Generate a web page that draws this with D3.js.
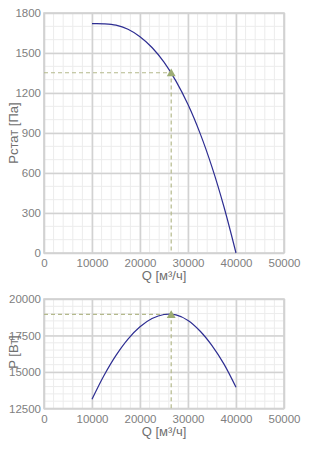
<!DOCTYPE html>
<html>
<head>
<meta charset="utf-8">
<script src="https://cdn.jsdelivr.net/npm/d3@7"></script>
<style>
  body { margin: 0; background: #fff; }
  svg { display: block; font-family: "Liberation Sans", Arial, sans-serif; }
</style>
</head>
<body>
<div id="chart"></div>
<script>
// data
const flow = [10000, 12500, 15000, 17500, 20000, 22500, 25000, 27500, 30000, 32500, 35000, 37500, 40000];
const pStatic = [1720, 1719, 1709, 1678, 1622, 1541, 1431, 1289, 1113, 899, 644, 345, 0];
const power = [13130, 14760, 16140, 17258, 18100, 18665, 18940, 18910, 18530, 17810, 16810, 15540, 13950];
const opFlow = 26500;
const opStatic = 1352;
const opPower = 18950;

const xTicks = [0, 10000, 20000, 30000, 40000, 50000];
const topTicks = [0, 300, 600, 900, 1200, 1500, 1800];
const bottomTicks = [12500, 15000, 17500, 20000];

const width = 320;
const height = 452;
const left = 44, right = 284;

const svg = d3.select("#chart").append("svg")
  .attr("width", width).attr("height", height);

function drawPanel(opts) {
  const x = d3.scaleLinear().domain([0, 50000]).range([left, right]);
  const y = d3.scaleLinear().domain(opts.domain).range([opts.bottom, opts.top]);
  const g = svg.append("g");

  // minor grid
  const xMinor = d3.range(0, 50001, 2000);
  const yMinor = d3.range(opts.domain[0], opts.domain[1] + 1, opts.minor);
  g.append("g").selectAll("line").data(xMinor).enter().append("line")
    .attr("x1", d => x(d)).attr("x2", d => x(d))
    .attr("y1", opts.top).attr("y2", opts.bottom)
    .attr("stroke", "#ececec").attr("stroke-width", 1);
  g.append("g").selectAll("line").data(yMinor).enter().append("line")
    .attr("x1", left).attr("x2", right)
    .attr("y1", d => y(d)).attr("y2", d => y(d))
    .attr("stroke", "#ececec").attr("stroke-width", 1);

  // major grid via axes
  const xAxis = d3.axisBottom(x).tickValues(xTicks).tickSize(-(opts.bottom - opts.top)).tickPadding(6).tickFormat(d3.format("d"));
  const yAxis = d3.axisLeft(y).tickValues(opts.ticks).tickSize(-(right - left)).tickPadding(3).tickFormat(d3.format("d"));

  const gx = g.append("g").attr("transform", `translate(0,${opts.bottom})`).call(xAxis);
  const gy = g.append("g").attr("transform", `translate(${left},0)`).call(yAxis);
  [gx, gy].forEach(a => {
    a.select(".domain").remove();
    a.selectAll(".tick line").attr("stroke", "#d2d2d2").attr("stroke-width", 1.6);
    a.selectAll(".tick text").attr("fill", "#808080").attr("font-size", 11.5);
  });

  // frame
  g.append("rect").attr("x", left).attr("y", opts.top)
    .attr("width", right - left).attr("height", opts.bottom - opts.top)
    .attr("fill", "none").attr("stroke", "#d2d2d2").attr("stroke-width", 1.6);

  // operating point guides
  g.append("path")
    .attr("d", `M${left},${y(opts.opY)}H${x(opFlow)}V${opts.bottom}`)
    .attr("fill", "none").attr("stroke", "#b4b98c").attr("stroke-width", 1.2)
    .attr("stroke-dasharray", "4,3");

  // curve
  const line = d3.line().x((d, i) => x(flow[i])).y(d => y(d)).curve(d3.curveCatmullRom);
  g.append("path").datum(opts.values).attr("d", line)
    .attr("fill", "none").attr("stroke", "#2d2d92").attr("stroke-width", 1.2);

  g.append("path")
    .attr("d", d3.symbol(d3.symbolTriangle).size(34)())
    .attr("transform", `translate(${x(opFlow)},${y(opts.opY) + 1})`)
    .attr("fill", "#9dac74");

  // labels
  g.append("text").attr("x", (left + right) / 2).attr("y", opts.bottom + 27)
    .attr("text-anchor", "middle").attr("font-size", 13).attr("fill", "#707070")
    .text("Q [м³/ч]");
  g.append("text")
    .attr("transform", `translate(18,${opts.labelY}) rotate(-90)`)
    .attr("text-anchor", "middle").attr("font-size", 13).attr("fill", "#707070")
    .text(opts.label);
}

drawPanel({ top: 13, bottom: 253, domain: [0, 1800], ticks: topTicks, minor: 100,
  values: pStatic, opY: opStatic, label: "Pстат [Па]", labelY: 133 });
drawPanel({ top: 299, bottom: 408.5, domain: [12500, 20000], ticks: bottomTicks, minor: 500,
  values: power, opY: opPower, label: "P [Вт]", labelY: 352 });
</script>
</body>
</html>
